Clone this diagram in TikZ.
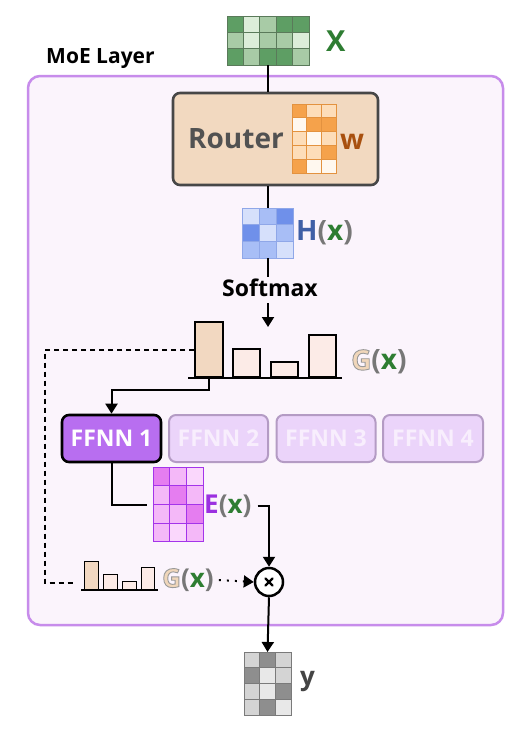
\documentclass[tikz,border=0pt]{standalone}
\usepackage{fontspec}
\setmainfont{Open Sans}
\usetikzlibrary{arrows.meta,calc}
\definecolor{moeB}{HTML}{C78CEB}
\definecolor{moeF}{HTML}{FBF4FC}
\definecolor{gD}{HTML}{5E9E64}
\definecolor{gM}{HTML}{A8CBA6}
\definecolor{gL}{HTML}{DCEDD9}
\definecolor{gB}{HTML}{5A7A5A}
\definecolor{xgreen}{HTML}{2E7D32}
\definecolor{routerF}{HTML}{F2D9C0}
\definecolor{routerB}{HTML}{474747}
\definecolor{routerT}{HTML}{525252}
\definecolor{oD}{HTML}{F5A24B}
\definecolor{oL}{HTML}{FDDDB9}
\definecolor{oW}{HTML}{FFF8EF}
\definecolor{oB}{HTML}{E3923F}
\definecolor{wbrown}{HTML}{A8500F}
\definecolor{bD}{HTML}{6F90EA}
\definecolor{bM}{HTML}{A8BEF6}
\definecolor{bL}{HTML}{D6E0FB}
\definecolor{bB}{HTML}{8FA7E8}
\definecolor{hblue}{HTML}{3F5FA6}
\definecolor{paren}{HTML}{777777}
\definecolor{barA}{HTML}{F2D8C1}
\definecolor{barB}{HTML}{FCEBE7}
\definecolor{gpeach}{HTML}{F0D6BA}
\definecolor{fOneF}{HTML}{B86EF0}
\definecolor{fF}{HTML}{EBD4FA}
\definecolor{fB}{HTML}{B49BC4}
\definecolor{fT}{HTML}{F8EEFD}
\definecolor{mD}{HTML}{E57DF0}
\definecolor{mM}{HTML}{F4B8F8}
\definecolor{mL}{HTML}{FAD7FC}
\definecolor{mB}{HTML}{A434EA}
\definecolor{epurple}{HTML}{9B30E0}
\definecolor{yD}{HTML}{8E8E8E}
\definecolor{yL}{HTML}{D4D4D4}
\definecolor{yW}{HTML}{E8E8E8}
\definecolor{yB}{HTML}{7A7A7A}
\definecolor{ylab}{HTML}{444444}
\newcommand{\fs}[1]{\fontsize{#1}{#1}\selectfont\bfseries}
\newcommand{\Gout}{{\color{gpeach}\special{pdf:literal direct 2 Tr 0.9 w 0.6 0.6 0.6 RG}G\special{pdf:literal direct 0 Tr}}}
\newcommand{\pl}{\textcolor{paren}{(}}
\newcommand{\pr}{\textcolor{paren}{)}}
\newcommand{\gx}{\textcolor{xgreen}{x}}
\newcommand{\cellgrid}[9]{%
  \node[inner sep=0pt, outer sep=0pt, minimum width={(#4)*(#6)*1pt}, minimum height={(#5)*(#7)*1pt}] (#1) at (#2,#3) {};
  \foreach \cc [count=\ii from 0] in {#9}{%
    \pgfmathtruncatemacro{\gcol}{mod(\ii,#4)}%
    \pgfmathtruncatemacro{\grow}{floor(\ii/#4)}%
    \path[fill=\cc, draw=#8, line width=0.9pt] ($(#1.north west)+(\gcol*#6,\grow*#7)$) rectangle ++(#6,#7);
  }}
\tikzset{
  conn/.style={line width=2pt, black},
  tip/.style={-{Triangle[length=10pt,width=12pt]}},
  lbl/.style={inner sep=0pt, anchor=west},
  bigbar/.style={draw=black, line width=1.6pt, inner sep=0pt, anchor=south west, minimum width=27pt},
  smallbar/.style={draw=black, line width=1.3pt, inner sep=0pt, anchor=south west, minimum width=14pt},
  ffnn/.style={rounded corners=7pt, minimum width=99pt, minimum height=47pt, inner sep=0pt, font=\fs{23}},
}
\begin{document}
\begin{tikzpicture}[x=1pt,y=-1pt]
\useasboundingbox (0,0) rectangle (521,734);
\fill[white] (0,0) rectangle (521,734);
% MoE layer box
\node[draw=moeB, fill=moeF, line width=2.5pt, rounded corners=12pt, minimum width=475pt, minimum height=549pt, inner sep=0pt] (moe) at (265.5,350.5) {};
\node[lbl, font=\fs{21}] (moelab) at (46,59) {MoE Layer};
% input x
\cellgrid{xm}{268}{40.5}{5}{3}{16.4}{16.3}{gB}{gD,gL,gM,gD,gD,gM,gL,gM,gM,gL,gD,gM,gD,gD,gM}
\node[lbl, font=\fs{29}, text=xgreen] (xlab) at (326,41) {X};
% router
\node[draw=routerB, fill=routerF, line width=2.6pt, rounded corners=7pt, minimum width=205pt, minimum height=92pt, inner sep=0pt] (router) at (275.5,139) {};
\node[font=\fs{28}, text=routerT, inner sep=0pt] (rtext) at (236,139) {Router};
\cellgrid{wm}{314}{138.5}{3}{5}{14.7}{13.8}{oB}{oD,oL,oL,oW,oD,oD,oL,oW,oL,oL,oL,oD,oD,oW,oW}
\node[lbl, font=\fs{28}, text=wbrown] (wlab) at (340,142) {w};
\draw[conn] (xm.south) -- (xm.south |- router.north);
% H(x)
\cellgrid{hm}{268}{233}{3}{3}{17}{16.7}{bB}{bL,bM,bD,bD,bL,bM,bM,bM,bL}
\node[lbl, font=\fs{28}] (hlab) at (296,233) {\textcolor{hblue}{H}\pl\gx\pr};
\draw[conn] (router.south -| hm.north) -- (hm.north);
\node[font=\fs{23}, inner sep=2pt] (sm) at (270,288) {Softmax};
\draw[conn] (hm.south) -- (hm.south |- sm.north);
\coordinate (gin) at (268,327);
\draw[conn, tip] (sm.south -| gin) ++(0,4) -- (gin);
% G(x) bars
\node[bigbar, fill=barA, minimum width=28pt, minimum height=55pt] (b1) at (194,378) {};
\node[bigbar, fill=barB, minimum height=28pt] (b2) at (232,378) {};
\node[bigbar, fill=barB, minimum height=15pt] (b3) at (270,378) {};
\node[bigbar, fill=barB, minimum height=42pt] (b4) at (308,378) {};
\coordinate (gbl) at (188,378);
\coordinate (gbr) at (342,378);
\draw[line width=2pt] (gbl) -- (gbr);
\node[lbl, font=\fs{28}] (glab) at (351,362) {\Gout\pl\gx\pr};
% FFNNs
\node[ffnn, draw=black, line width=2.6pt, fill=fOneF, text=white] (f1) at (111.5,438.5) {FFNN 1};
\node[ffnn, draw=fB, line width=2pt, fill=fF, text=fT] (f2) at (218.5,438.5) {FFNN 2};
\node[ffnn, draw=fB, line width=2pt, fill=fF, text=fT] (f3) at (326,438.5) {FFNN 3};
\node[ffnn, draw=fB, line width=2pt, fill=fF, text=fT, minimum width=100pt] (f4) at (433,438.5) {FFNN 4};
\draw[conn, tip] (b1.south) -- ++(0,12) -| (f1.north);
% E(x)
\cellgrid{em}{178}{504.5}{3}{4}{16.7}{18.7}{mB}{mD,mM,mL,mM,mD,mM,mM,mM,mD,mM,mL,mM}
\node[lbl, font=\fs{26}] (elab) at (204,506) {\textcolor{epurple}{E}\pl\gx\pr};
\draw[conn] (f1.south) |- ([xshift=-6pt]em.west);
% multiply
\node[circle, draw=black, line width=2.5pt, fill=white, minimum size=28pt, inner sep=0pt] (mult) at (269,582) {};
\draw[line width=2.2pt, line cap=round] ($(mult.center)+(-3.5,-3.5)$) -- ($(mult.center)+(3.5,3.5)$) ($(mult.center)+(-3.5,3.5)$) -- ($(mult.center)+(3.5,-3.5)$);
\draw[conn, tip] ([xshift=6pt]elab.east) -| (mult.north);
% small G(x)
\node[smallbar, fill=barA, minimum height=28pt] (s1) at (84,590) {};
\node[smallbar, fill=barB, minimum height=15pt] (s2) at (103,590) {};
\node[smallbar, fill=barB, minimum height=8pt] (s3) at (122,590) {};
\node[smallbar, fill=barB, minimum width=13pt, minimum height=22pt] (s4) at (141,590) {};
\coordinate (sbl) at (81,590);
\coordinate (sbr) at (158,590);
\draw[line width=1.8pt] (sbl) -- (sbr);
\node[lbl, font=\fs{26}] (sglab) at (162,580) {\Gout\pl\gx\pr};
\coordinate (dend) at (73,583);
\draw[line width=1.8pt, dash pattern=on 5pt off 4pt] (b1.west) -| ([xshift=-28pt]dend) -- (dend);
\draw[line width=2pt, dash pattern=on 2pt off 6pt, -{Triangle[length=10pt,width=12pt]}] ([xshift=5pt]sglab.east) -- (mult.west);
% output y
\cellgrid{ym}{267.5}{683.5}{3}{4}{15.7}{15.75}{yB}{yL,yD,yL,yD,yW,yL,yL,yW,yD,yL,yD,yW}
\node[lbl, font=\fs{26}, text=ylab] (ylb) at (300,682) {y};
\draw[conn, tip] (mult.south) -- (ym.north);
\end{tikzpicture}
\end{document}
